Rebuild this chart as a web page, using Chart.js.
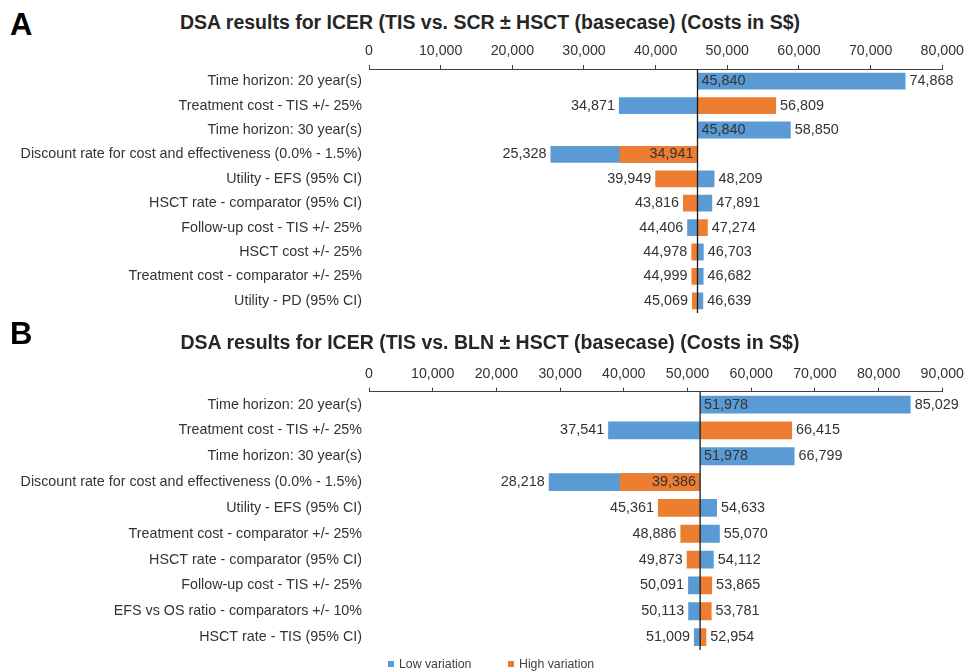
<!DOCTYPE html>
<html lang="en">
<head>
<meta charset="UTF-8">
<title>DSA results for ICER</title>
<script src="https://cdn.jsdelivr.net/npm/chart.js@4.4.1/dist/chart.umd.min.js"></script>
<style>
    html, body { margin: 0; padding: 0; background: #fff; }
    body {
        width: 969px;
        height: 671px;
        position: relative;
        overflow: hidden;
        font-family: "Liberation Sans", Arial, sans-serif;
        color: #333;
    }
    .letter {
        position: absolute;
        left: 10px;
        font-weight: bold;
        font-size: 31px;
        line-height: 1;
        color: #000;
    }
    .title {
        position: absolute;
        left: 0;
        width: 980px;
        text-align: center;
        font-weight: bold;
        font-size: 19.5px;
        line-height: 22px;
        color: #262626;
    }
    .panel { position: absolute; left: 0; width: 969px; }
    .legend-item {
        position: absolute;
        font-size: 12.3px;
        line-height: 14px;
        color: #404040;
    }
    .legend-item span {
        display: inline-block;
        width: 6px;
        height: 6px;
        margin-right: 5px;
        vertical-align: 1px;
    }
</style>
</head>
<body>
    <div class="letter" style="top:9px">A</div>
    <div class="title" style="top:11px">DSA results for ICER (TIS vs. SCR ± HSCT (basecase) (Costs in S$)</div>
    <div class="panel" style="top:0; height:334px"><canvas id="chartA"></canvas></div>

    <div class="letter" style="top:318px">B</div>
    <div class="title" style="top:331px">DSA results for ICER (TIS vs. BLN ± HSCT (basecase) (Costs in S$)</div>
    <div class="panel" style="top:318px; height:353px"><canvas id="chartB"></canvas></div>

    <div class="legend-item" style="left:388px; top:657px"><span style="background:#5B9BD5"></span>Low variation</div>
    <div class="legend-item" style="left:508px; top:657px"><span style="background:#ED7D31"></span>High variation</div>

<script>
    // Panel A: TIS vs. SCR
    const categoriesA = [
        'Time horizon: 20 year(s)',
        'Treatment cost - TIS +/- 25%',
        'Time horizon: 30 year(s)',
        'Discount rate for cost and effectiveness (0.0% - 1.5%)',
        'Utility - EFS (95% CI)',
        'HSCT rate - comparator (95% CI)',
        'Follow-up cost - TIS +/- 25%',
        'HSCT cost +/- 25%',
        'Treatment cost - comparator +/- 25%',
        'Utility - PD (95% CI)'
    ];
    const baseA = 45840;
    const lowA = [74868, 34871, 58850, 25328, 48209, 47891, 44406, 46703, 46682, 46639];
    const highA = [45840, 56809, 45840, 34941, 39949, 43816, 47274, 44978, 44999, 45069];
    const maxA = 80000;

    // Panel B: TIS vs. BLN
    const categoriesB = [
        'Time horizon: 20 year(s)',
        'Treatment cost - TIS +/- 25%',
        'Time horizon: 30 year(s)',
        'Discount rate for cost and effectiveness (0.0% - 1.5%)',
        'Utility - EFS (95% CI)',
        'Treatment cost - comparator +/- 25%',
        'HSCT rate - comparator (95% CI)',
        'Follow-up cost - TIS +/- 25%',
        'EFS vs OS ratio - comparators +/- 10%',
        'HSCT rate - TIS (95% CI)'
    ];
    const baseB = 51978;
    const lowB = [85029, 37541, 66799, 28218, 54633, 55070, 54112, 50091, 50113, 51009];
    const highB = [51978, 66415, 51978, 39386, 45361, 48886, 49873, 53865, 53781, 52954];
    const maxB = 90000;

    const tickStep = 10000;
    const FONT = '"Liberation Sans", Arial, sans-serif';

    // base line + value labels for the tornado bars
    const tornadoPlugin = {
        id: 'tornado',
        afterDatasetsDraw(chart, args, opts) {
            const { ctx, chartArea } = chart;
            const x = chart.scales.x, y = chart.scales.y;
            const base = opts.base;
            const bx = x.getPixelForValue(base);

            ctx.save();
            ctx.strokeStyle = '#1a1a1a';
            ctx.lineWidth = 1.3;
            ctx.beginPath();
            ctx.moveTo(bx, chartArea.top);
            ctx.lineTo(bx, chartArea.bottom);
            ctx.stroke();

            ctx.font = '14.4px ' + FONT;
            ctx.fillStyle = '#333';
            ctx.textBaseline = 'middle';
            const ds = chart.data.datasets;
            chart.data.labels.forEach((lab, i) => {
                const py = y.getPixelForValue(i);
                for (let d = 0; d < 2; d++) {
                    const v = ds[d].data[i][1];
                    const other = ds[1 - d].data[i][1];
                    const side = Math.sign(v - base);
                    const otherSide = Math.sign(other - base);
                    // label sits at the base when the other bar covers this end
                    const inside = side === 0 ||
                        (side === otherSide && Math.abs(other - base) > Math.abs(v - base));
                    let px, dir;
                    if (inside) {
                        dir = side === 0 ? otherSide : side;
                        px = bx + dir * 4;
                    } else {
                        dir = side;
                        px = x.getPixelForValue(v) + dir * 4;
                    }
                    ctx.textAlign = dir > 0 ? 'left' : 'right';
                    ctx.fillText(v.toLocaleString('en-US'), px, py);
                }
            });
            ctx.restore();
        }
    };

    function makeTornado(id, cats, low, high, base, xMax, padTop, padBottom) {
        const ctx = document.getElementById(id).getContext('2d');
        return new Chart(ctx, {
            type: 'bar',
            data: {
                labels: cats,
                datasets: [{
                    label: 'Low variation',
                    data: low.map(v => [base, v]),
                    backgroundColor: '#5B9BD5',
                    borderWidth: 0,
                    grouped: false,
                    order: 1,
                    categoryPercentage: 1,
                    barPercentage: 0.69
                }, {
                    label: 'High variation',
                    data: high.map(v => [base, v]),
                    backgroundColor: '#ED7D31',
                    borderWidth: 0,
                    grouped: false,
                    order: 0,
                    categoryPercentage: 1,
                    barPercentage: 0.69
                }]
            },
            options: {
                indexAxis: 'y',
                responsive: true,
                maintainAspectRatio: false,
                animation: false,
                layout: { padding: { top: padTop, bottom: padBottom, left: 0, right: 23 } },
                scales: {
                    x: {
                        position: 'top',
                        min: 0,
                        max: xMax,
                        afterFit(scale) { scale.height = 30; },
                        ticks: {
                            stepSize: tickStep,
                            padding: 5,
                            color: '#333',
                            font: { family: FONT, size: 14.2 },
                            callback: v => v.toLocaleString('en-US')
                        },
                        grid: { drawOnChartArea: false, tickLength: 4, color: '#404040' },
                        border: { display: true, color: '#404040', width: 1 }
                    },
                    y: {
                        afterFit(scale) { scale.width = 369; },
                        grid: { display: false, drawTicks: false },
                        border: { display: false },
                        ticks: {
                            padding: 7,
                            color: '#333',
                            font: { family: FONT, size: 14.3 }
                        }
                    }
                },
                plugins: {
                    legend: { display: false },
                    tooltip: { enabled: false },
                    tornado: { base: base }
                }
            },
            plugins: [tornadoPlugin]
        });
    }

    makeTornado('chartA', categoriesA, lowA, highA, baseA, maxA, 39, 21);
    makeTornado('chartB', categoriesB, lowB, highB, baseB, maxB, 43.7, 21);
</script>
</body>
</html>
